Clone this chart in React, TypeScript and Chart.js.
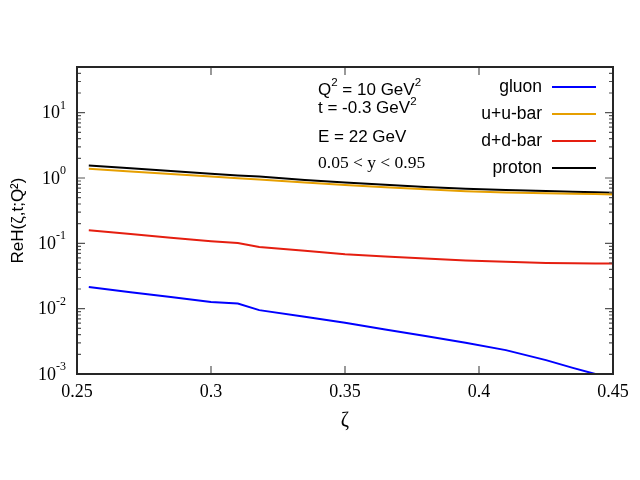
import React, { useEffect, useRef } from 'react';
import { Chart, registerables } from 'chart.js';

Chart.register(...registerables);

// zeta grid of the curves
const zeta = [0.2544, 0.27, 0.285, 0.3, 0.31, 0.318, 0.335, 0.35, 0.365, 0.38, 0.395, 0.41, 0.425, 0.435, 0.4434, 0.45];
const gluon = [0.0215, 0.0179, 0.0151, 0.0127, 0.012, 0.0095, 0.0075, 0.0061, 0.0048, 0.00383, 0.003, 0.00232, 0.00163, 0.00124, 0.001, 0.00085];
const uPlusUbar = [1.38, 1.26, 1.15, 1.05, 0.99, 0.95, 0.853, 0.78, 0.724, 0.673, 0.628, 0.6, 0.583, 0.574, 0.567, 0.56];
const dPlusDbar = [0.158, 0.139, 0.122, 0.108, 0.101, 0.088, 0.077, 0.068, 0.063, 0.0587, 0.0548, 0.0522, 0.0502, 0.0494, 0.049, 0.049];
const proton = [1.55, 1.41, 1.28, 1.16, 1.09, 1.05, 0.93, 0.85, 0.785, 0.73, 0.685, 0.655, 0.634, 0.618, 0.605, 0.594];

const seriesNames = ['gluon', 'u+u-bar', 'd+d-bar', 'proton'];
const seriesColors = ['#0000ff', '#e69f00', '#e51e10', '#000000'];

// axis ticks
const xTicks = [0.25, 0.3, 0.35, 0.4, 0.45];
const xTickLabels = ['0.25', '0.3', '0.35', '0.4', '0.45'];
const yTickExponents = [-3, -2, -1, 0, 1];

const SANS = '"Liberation Sans", Arial, sans-serif';
const SERIF = '"Liberation Serif", "Times New Roman", serif';

type Part = [string, boolean];

// draws text with simple superscripts, like gnuplot's enhanced text
function drawRich(ctx: CanvasRenderingContext2D, parts: Part[], x: number, y: number, size: number, family: string) {
  let cx = x;
  for (const [t, sup] of parts) {
    const s = sup ? size * 0.68 : size;
    ctx.font = `${s}px ${family}`;
    ctx.fillText(t, cx, sup ? y - size * 0.42 : y);
    cx += ctx.measureText(t).width;
  }
}

const gnuplotFrame = {
  id: 'gnuplotFrame',
  afterDatasetsDraw(chart: any) {
    const { ctx, chartArea: a, scales } = chart;
    const xs = scales.x;
    const ys = scales.y;
    ctx.save();

    // inward ticks on all four sides
    ctx.strokeStyle = '#555';
    ctx.lineWidth = 1.2;
    ctx.beginPath();
    xTicks.forEach((v) => {
      const px = xs.getPixelForValue(v);
      ctx.moveTo(px, a.bottom);
      ctx.lineTo(px, a.bottom - 8);
      ctx.moveTo(px, a.top);
      ctx.lineTo(px, a.top + 8);
    });
    yTickExponents.forEach((e) => {
      for (let m = 1; m <= 9; m++) {
        const v = m * Math.pow(10, e);
        if (v > ys.max) break;
        const py = ys.getPixelForValue(v);
        const len = m === 1 ? 8 : 4;
        ctx.moveTo(a.left, py);
        ctx.lineTo(a.left + len, py);
        ctx.moveTo(a.right, py);
        ctx.lineTo(a.right - len, py);
      }
    });
    ctx.stroke();

    // border
    ctx.strokeStyle = '#262626';
    ctx.lineWidth = 2;
    ctx.strokeRect(a.left, a.top, a.right - a.left, a.bottom - a.top);

    // y tick labels 10^n
    ctx.fillStyle = '#000';
    ctx.textBaseline = 'middle';
    yTickExponents.forEach((e) => {
      const py = ys.getPixelForValue(Math.pow(10, e));
      const exp = String(e);
      ctx.font = `12px ${SERIF}`;
      const ew = ctx.measureText(exp).width;
      const right = a.left - 11;
      ctx.textAlign = 'left';
      ctx.fillText(exp, right - ew, py - 7);
      ctx.font = `18px ${SERIF}`;
      ctx.textAlign = 'right';
      ctx.fillText('10', right - ew, py + 1);
    });

    // legend: text right aligned, sample line to the right
    const legendY = [87, 114, 141, 168];
    chart.data.datasets.forEach((ds: any, i: number) => {
      ctx.font = `17.5px ${SANS}`;
      ctx.textAlign = 'right';
      ctx.fillStyle = '#000';
      ctx.fillText(ds.label, 542, legendY[i]);
      ctx.strokeStyle = ds.borderColor;
      ctx.lineWidth = 2;
      ctx.beginPath();
      ctx.moveTo(552, legendY[i]);
      ctx.lineTo(596, legendY[i]);
      ctx.stroke();
    });

    // annotations
    ctx.textAlign = 'left';
    ctx.fillStyle = '#000';
    drawRich(ctx, [['Q', false], ['2', true], [' = 10 GeV', false], ['2', true]], 318, 90, 17, SANS);
    drawRich(ctx, [['t = -0.3 GeV', false], ['2', true]], 318, 108.5, 17, SANS);
    drawRich(ctx, [['E = 22 GeV', false]], 318, 137.5, 17, SANS);
    drawRich(ctx, [['0.05 < y < 0.95', false]], 318, 163, 17.5, SERIF);

    ctx.restore();
  },
};

const App: React.FC = () => {
  const canvasRef = useRef<HTMLCanvasElement>(null);
  const chartRef = useRef<Chart | null>(null);

  useEffect(() => {
    if (!canvasRef.current) return;
    if (chartRef.current) chartRef.current.destroy();

    const series = [gluon, uPlusUbar, dPlusDbar, proton];
    const datasets = series.map((vals, i) => ({
      label: seriesNames[i],
      data: vals.map((v, j) => ({ x: zeta[j], y: v })),
      borderColor: seriesColors[i],
      backgroundColor: seriesColors[i],
      borderWidth: 2,
      pointRadius: 0,
      tension: 0,
      fill: false,
    }));

    chartRef.current = new Chart(canvasRef.current, {
      type: 'line',
      data: { datasets },
      options: {
        animation: false,
        responsive: true,
        maintainAspectRatio: false,
        layout: { padding: { left: 0, right: 27, top: 67, bottom: 0 } },
        plugins: {
          legend: { display: false },
          tooltip: { enabled: false },
        },
        scales: {
          x: {
            type: 'linear',
            min: 0.25,
            max: 0.45,
            grid: { display: false },
            border: { display: false },
            afterBuildTicks: (scale: any) => {
              scale.ticks = xTicks.map((v) => ({ value: v }));
            },
            afterFit: (scale: any) => {
              scale.height = 106;
            },
            ticks: {
              padding: -1,
              color: '#000',
              font: { family: SERIF, size: 18 },
              maxRotation: 0,
              callback: (value: any) => {
                const k = xTicks.indexOf(Number(value));
                return k >= 0 ? xTickLabels[k] : '';
              },
            },
            title: {
              display: true,
              text: 'ζ',
              color: '#000',
              font: { family: SERIF, size: 20 },
              padding: { top: 0, bottom: 47 },
            },
          },
          y: {
            type: 'logarithmic',
            min: 0.001,
            max: 50,
            grid: { display: false },
            border: { display: false },
            afterFit: (scale: any) => {
              scale.width = 77;
            },
            ticks: { display: false },
            title: {
              display: true,
              text: 'ReH(ζ,t;Q²)',
              color: '#000',
              font: { family: SANS, size: 17 },
              padding: { top: 8, bottom: 0 },
            },
          },
        },
      },
      plugins: [gnuplotFrame],
    });

    return () => {
      if (chartRef.current) {
        chartRef.current.destroy();
        chartRef.current = null;
      }
    };
  }, []);

  return (
    <div style={{ position: 'fixed', left: 0, top: 0, width: 640, height: 480, background: '#fff' }}>
      <canvas ref={canvasRef}></canvas>
    </div>
  );
};

export default App;
